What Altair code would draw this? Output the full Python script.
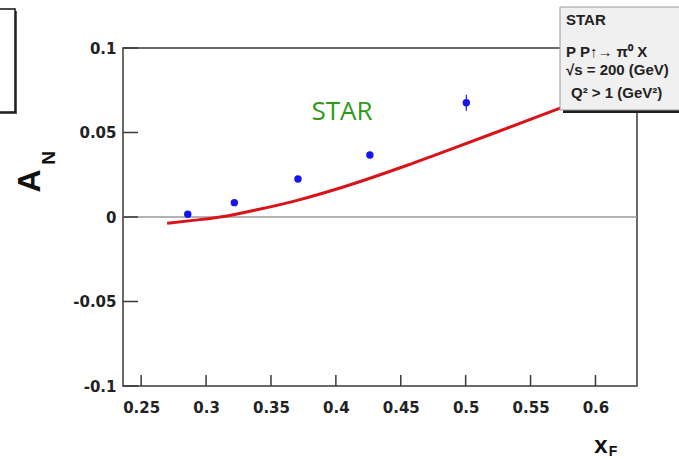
import altair as alt
import pandas as pd

# Measured asymmetry A_N versus x_F
data_x = [0.2859, 0.3218, 0.3708, 0.4262, 0.5005]
data_y = [0.0016, 0.0085, 0.0225, 0.0367, 0.0676]
data_err = [0.0010, 0.0010, 0.0012, 0.0015, 0.0047]

# Model curve
curve_x = [0.270, 0.290, 0.311, 0.340, 0.371, 0.400, 0.428, 0.455, 0.480, 0.520, 0.5723, 0.585]
curve_y = [-0.0037, -0.0020, 0.0000, 0.0044, 0.0100, 0.0164, 0.0234, 0.0306, 0.0377, 0.0491, 0.0643, 0.0680]

x_ticks = [0.25, 0.3, 0.35, 0.4, 0.45, 0.5, 0.55, 0.6]
y_ticks = [-0.1, -0.05, 0.0, 0.05, 0.1]

W, H = 514, 338
X_DOM = [0.236, 0.632]
Y_DOM = [-0.1, 0.1]
FRAME = "#3a3a3a"
LABEL_FONT = "DejaVu Sans"

pts = pd.DataFrame({"x": data_x, "y": data_y,
                    "lo": [v - e for v, e in zip(data_y, data_err)],
                    "hi": [v + e for v, e in zip(data_y, data_err)]})
curve = pd.DataFrame({"x": curve_x, "y": curve_y})
xt = pd.DataFrame({"x": x_ticks})
yt = pd.DataFrame({"y": y_ticks})
one = pd.DataFrame({"k": [0]})

xs = alt.Scale(domain=X_DOM, nice=False, zero=False)
ys = alt.Scale(domain=Y_DOM, nice=False, zero=False)

x_axis = alt.Axis(values=x_ticks, labelExpr="toString(datum.value)", title=None,
                  ticks=False, tickSize=0, domain=False, grid=False,
                  labelFont=LABEL_FONT, labelFontWeight="bold", labelFontSize=15,
                  labelColor="#222", labelPadding=14, labelFlush=False)
y_axis = alt.Axis(values=y_ticks, labelExpr="toString(datum.value)", title=None,
                  ticks=False, tickSize=0, domain=False, grid=False,
                  labelFont=LABEL_FONT, labelFontWeight="bold", labelFontSize=15,
                  labelColor="#222", labelPadding=7, labelFlush=False)


def box(x1, x2, y1, y2, **style):
    return alt.Chart(one).mark_rect(**style).encode(
        x=alt.value(x1), x2=alt.value(x2), y=alt.value(y1), y2=alt.value(y2))


def label(text, x, y, **style):
    return alt.Chart(one).mark_text(text=text, **style).encode(
        x=alt.value(x), y=alt.value(y))


# Axes carrying the tick labels (invisible mark)
axes = alt.Chart(pts).mark_point(opacity=0).encode(
    x=alt.X("x:Q", scale=xs, axis=x_axis),
    y=alt.Y("y:Q", scale=ys, axis=y_axis))

frame = box(0, W, 0, H, fill=None, stroke=FRAME, strokeWidth=1.5)

zero_line = alt.Chart(one).mark_rule(color="#9a9a9a", strokeWidth=1.5).encode(
    x=alt.value(0), x2=alt.value(W), y=alt.datum(0, scale=ys))

# Inward tick marks
x_tick_marks = alt.Chart(xt).mark_rule(color=FRAME, strokeWidth=1.5).encode(
    x=alt.X("x:Q", scale=xs), y=alt.value(H), y2=alt.value(H - 11))
y_tick_marks = alt.Chart(yt).mark_rule(color=FRAME, strokeWidth=1.5).encode(
    y=alt.Y("y:Q", scale=ys), x=alt.value(0), x2=alt.value(15))

model = alt.Chart(curve).mark_line(color="#d8141a", strokeWidth=3,
                                   interpolate="monotone").encode(
    x=alt.X("x:Q", scale=xs), y=alt.Y("y:Q", scale=ys))

err = alt.Chart(pts).mark_rule(color="#1a1aee", strokeWidth=1.2).encode(
    x=alt.X("x:Q", scale=xs), y=alt.Y("lo:Q", scale=ys), y2="hi:Q")

dots = alt.Chart(pts).mark_circle(color="#1414f0", size=55, opacity=1).encode(
    x=alt.X("x:Q", scale=xs), y=alt.Y("y:Q", scale=ys))

star_tag = label("STAR", 219, 64, font="Open Sans", fontSize=26,
                 color="#2f9a18", align="center", baseline="middle")

# Info box in the upper right
info_shadow = box(440, 570, -38, 65, fill="#1e1e1e", stroke=None)
info_box = box(437, 570, -41, 62, fill="#f0f0f0", stroke="#9a9a9a", strokeWidth=1)
info_style = dict(font="Liberation Sans", fontWeight="bold", fontSize=15,
                  color="#222", align="left", baseline="middle")
info = (label("STAR", 443, -28, **info_style)
        + label("P P\u2191\u2192 \u03c0\u2070 X", 443, 4, **info_style)
        + label("\u221as = 200 (GeV)", 443, 22, **info_style)
        + label("Q\u00b2 > 1 (GeV\u00b2)", 448, 45, **info_style))

# Small box in the upper left
side_shadow = box(-130, -106, -37, 66, fill="#555", stroke=None)
side_box = box(-132, -108, -39, 64, fill="white", stroke="#111", strokeWidth=1.5)

# Axis titles with subscripts
title_style = dict(font="Liberation Sans", fontWeight="bold", color="#111",
                   align="center", baseline="middle")
y_title = (label("A", -93, 133, fontSize=32, angle=270, **title_style)
           + label("N", -74, 110, fontSize=19, angle=270, **title_style))
x_title = (label("x", 478, 398, fontSize=24, **title_style)
           + label("F", 490, 404, fontSize=14, **title_style))

chart = alt.layer(
    axes, frame, zero_line, x_tick_marks, y_tick_marks, model, err, dots,
    star_tag, info_shadow, info_box, info, side_shadow, side_box,
    y_title, x_title,
).properties(
    width=W, height=H,
    autosize=alt.AutoSizeParams(type="none"),
    padding={"left": 123, "top": 48, "right": 42, "bottom": 73},
    background="white",
).configure_view(stroke=None)

chart.save("out.html", embed_options={"renderer": "svg", "actions": False})
